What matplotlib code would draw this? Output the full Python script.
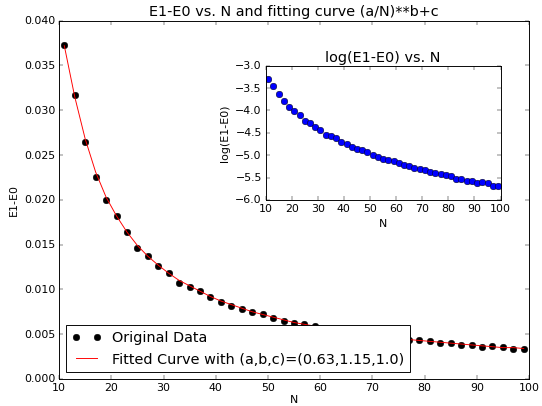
import numpy as np
import matplotlib
matplotlib.use("Agg")
import matplotlib.pyplot as plt

plt.style.use('classic')

# system sizes (odd N) and energy gap E1-E0
N = np.arange(11, 100, 2)
gap = [0.0373, 0.0317, 0.0265, 0.0226, 0.0200, 0.0182, 0.0164, 0.0146, 0.0137, 0.0126,
       0.0118, 0.0107, 0.0103, 0.0098, 0.0091, 0.0086, 0.0081, 0.0078, 0.0075, 0.0072,
       0.0068, 0.0065, 0.0062, 0.0061, 0.0059, 0.0056, 0.0054, 0.0053, 0.0051, 0.0050,
       0.0048, 0.0046, 0.0045, 0.0044, 0.0043, 0.0042, 0.0040, 0.0040, 0.0038, 0.0038,
       0.0036, 0.0037, 0.0036, 0.0034, 0.0034]
# red fitted curve, read at the same N
fitted = [0.0372, 0.0315, 0.0268, 0.0231, 0.0203, 0.0182, 0.0164, 0.0149, 0.0137, 0.0127,
          0.0118, 0.0110, 0.0104, 0.0098, 0.0092, 0.0087, 0.0083, 0.0079, 0.0075, 0.0072,
          0.0069, 0.0066, 0.0063, 0.0061, 0.0059, 0.0057, 0.0055, 0.0053, 0.0051, 0.0050,
          0.0048, 0.0047, 0.0045, 0.0044, 0.0043, 0.0042, 0.0041, 0.0040, 0.0039, 0.0038,
          0.0037, 0.0036, 0.0035, 0.0035, 0.0034]
fit_label = 'Fitted Curve with (a,b,c)=(0.63,1.15,1.0)'

fs_small = 11.7   # ticks and axis labels
fs_big = 15.3     # titles and legend

fig = plt.figure(figsize=(8, 6), facecolor='white')

# main plot
ax = fig.add_axes([0.109, 0.0665, 0.867, 0.8815])
ax.plot(N, gap, 'ko', markersize=7, label='Original Data')
ax.plot(N, fitted, 'r-', label=fit_label)
ax.set_xlim(10, 100)
ax.set_ylim(0, 0.040)
ax.set_xticks(np.arange(10, 101, 10))
ax.set_yticks(np.arange(0, 0.0401, 0.005))
ax.tick_params(labelsize=fs_small)
ax.set_title('E1-E0 vs. N and fitting curve (a/N)**b+c', fontsize=fs_big)
ax.set_xlabel('N', fontsize=fs_small, labelpad=2)
ax.set_ylabel('E1-E0', fontsize=fs_small)
ax.legend(loc='lower left', numpoints=2, fontsize=fs_big)

# inset: log of the gap
ins = fig.add_axes([0.490, 0.507, 0.4336, 0.330])
ins.plot(N, np.log(gap), 'bo', markersize=7)
ins.set_xlim(10, 100)
ins.set_ylim(-6.0, -3.0)
ins.set_xticks(np.arange(10, 101, 10))
ins.set_yticks(np.arange(-6.0, -2.99, 0.5))
ins.tick_params(labelsize=fs_small)
ins.set_title('log(E1-E0) vs. N', fontsize=fs_big)
ins.set_xlabel('N', fontsize=fs_small)
ins.set_ylabel('log(E1-E0)', fontsize=fs_small)

fig.savefig('out.png', dpi=67.75, facecolor='white')
